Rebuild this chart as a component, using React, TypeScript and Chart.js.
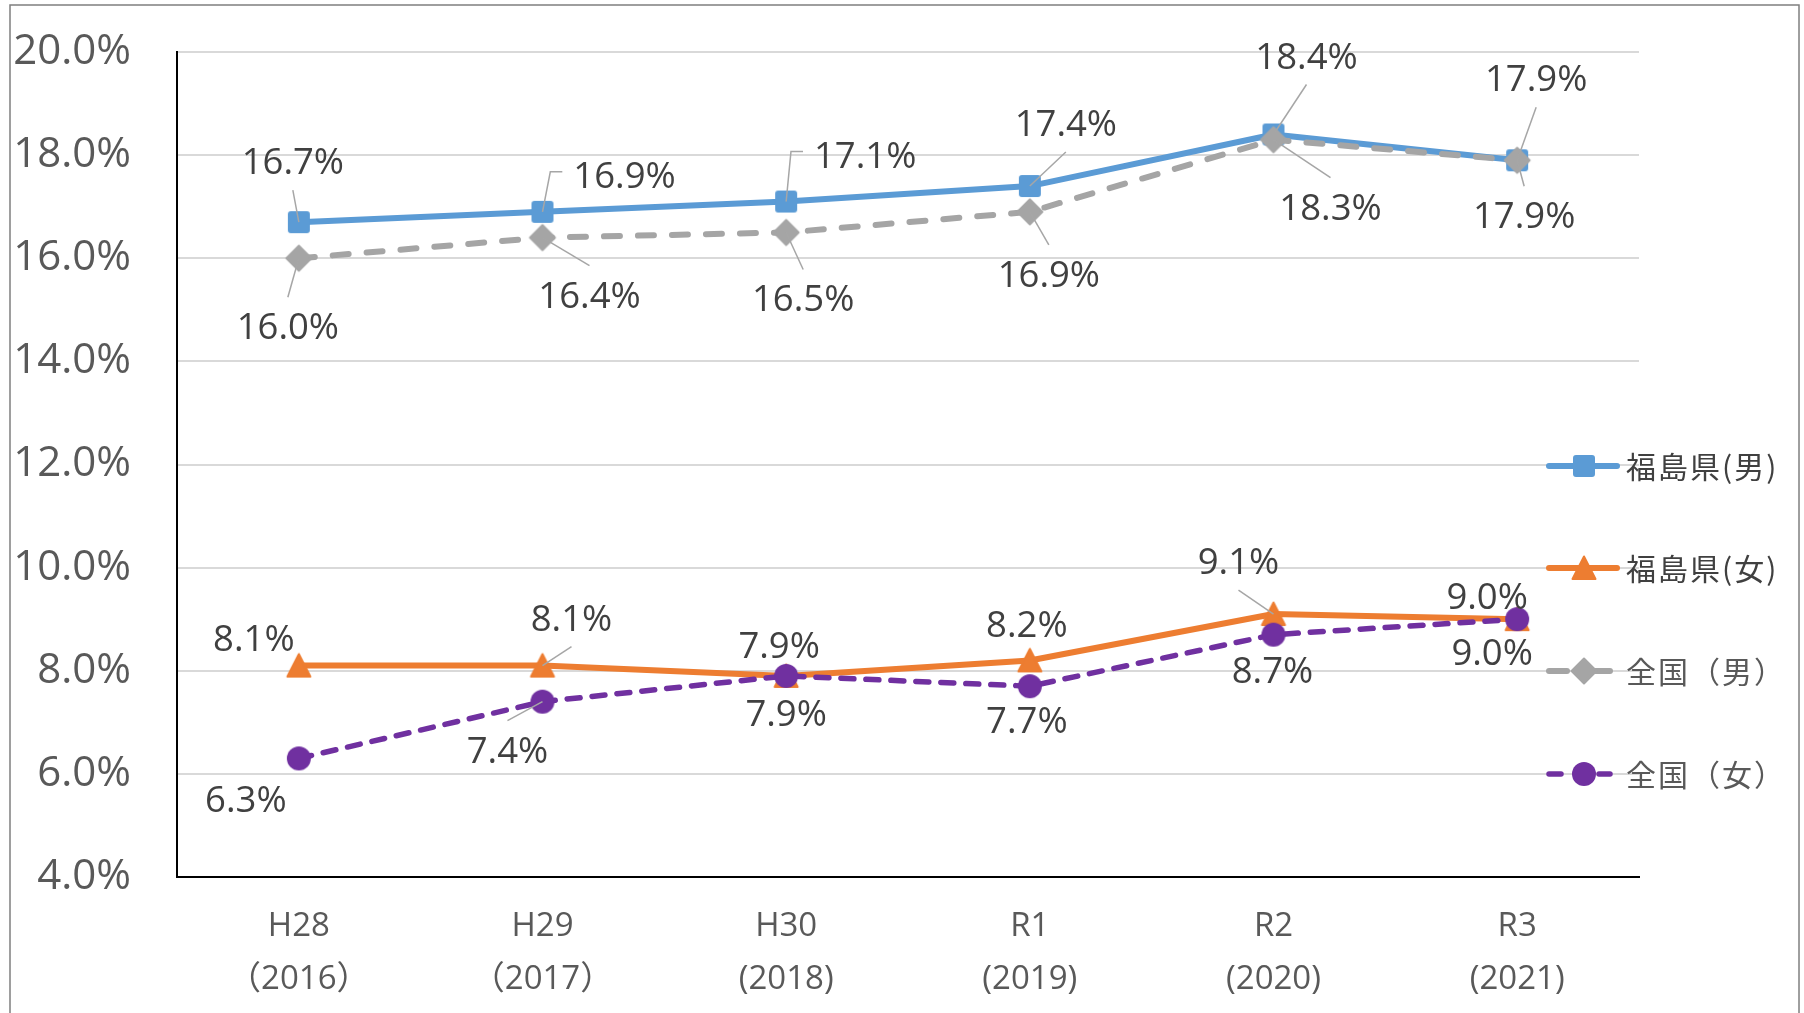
import { useEffect, useRef } from "react";
import { Chart, registerables } from "chart.js";

Chart.register(...registerables);

// ---------- data ----------
const categories: string[][] = [
  ["H28", "（2016）"],
  ["H29", "（2017）"],
  ["H30", "(2018)"],
  ["R1", "(2019)"],
  ["R2", "(2020)"],
  ["R3", "(2021)"],
];
const seriesNames = ["福島県(男)", "福島県(女)", "全国（男）", "全国（女）"];
const fukushimaMale = [16.7, 16.9, 17.1, 17.4, 18.4, 17.9];
const fukushimaFemale = [8.1, 8.1, 7.9, 8.2, 9.1, 9.0];
const nationalMale = [16.0, 16.4, 16.5, 16.9, 18.3, 17.9];
const nationalFemale = [6.3, 7.4, 7.9, 7.7, 8.7, 9.0];
const yMin = 4;
const yMax = 20;
const yStep = 2;

// ---------- styles / layout ----------
const BLUE = "#5B9BD5";
const ORANGE = "#ED7D31";
const GRAY = "#A5A5A5";
const PURPLE = "#7030A0";
const FONT = "'Open Sans', 'Noto Sans CJK JP', sans-serif";
const CJK = "'Noto Sans CJK JP', 'Noto Sans', sans-serif";

// label offsets from the point [dx, dy, leader: 0 none, 1 straight, 2 elbow]
const labelOffsets: number[][][] = [
  [[-6, -61, 1], [82, -37, 2], [79, -47, 2], [36, -63, 1], [33, -79, 1], [19, -82, 1]],
  [[-45, -28, 0], [29, -48, 1], [-7, -31, 0], [-3, -36, 0], [-35, -53, 1], [-30, -23, 0]],
  [[-11, 68, 1], [47, 57, 1], [17, 66, 1], [19, 62, 1], [57, 67, 1], [7, 55, 1]],
  [[-53, 41, 0], [-35, 48, 1], [0, 37, 0], [-3, 34, 0], [-1, 35, 0], [-25, 33, 0]],
];

function makeMarker(kind: string, color: string): HTMLCanvasElement {
  const S = 30;
  const c = document.createElement("canvas");
  c.width = S;
  c.height = S;
  const g = c.getContext("2d")!;
  g.fillStyle = color;
  g.strokeStyle = color;
  g.lineJoin = "round";
  g.lineWidth = 2;
  const m = S / 2;
  g.beginPath();
  if (kind === "square") {
    (g as any).roundRect(m - 11, m - 11, 22, 22, 3);
  } else if (kind === "diamond") {
    g.moveTo(m, m - 12.5);
    g.lineTo(m + 12.5, m);
    g.lineTo(m, m + 12.5);
    g.lineTo(m - 12.5, m);
  } else if (kind === "triangle") {
    g.moveTo(m, m - 11.5);
    g.lineTo(m + 11.5, m + 11);
    g.lineTo(m - 11.5, m + 11);
  } else {
    g.arc(m, m, 12, 0, Math.PI * 2);
  }
  g.closePath();
  g.fill();
  if (kind === "triangle" || kind === "diamond") g.stroke();
  return c;
}

export default function App() {
  const ref = useRef<HTMLCanvasElement>(null);

  useEffect(() => {
    const markers = [
      makeMarker("square", BLUE),
      makeMarker("triangle", ORANGE),
      makeMarker("diamond", GRAY),
      makeMarker("circle", PURPLE),
    ];
    const colors = [BLUE, ORANGE, GRAY, PURPLE];
    const seriesData = [fukushimaMale, fukushimaFemale, nationalMale, nationalFemale];

    const legendRows = [466, 568, 671, 774];
    const legendSegs: number[][][] = [
      [[1549, 1617]],
      [[1549, 1617]],
      [[1549, 1567], [1595, 1610]],
      [[1549, 1561], [1599, 1610]],
    ];
    const legendWidths = [6, 6, 6, 5.5];
    const legendTextColors = ["#404040", "#404040", "#595959", "#595959"];

    const overlay = {
      id: "overlay",
      afterDatasetsDraw(chart: any) {
        const ctx = chart.ctx as CanvasRenderingContext2D;
        ctx.save();
        // data labels + leader lines
        const fs = 36.5;
        ctx.font = `${fs}px ${FONT}`;
        ctx.textAlign = "center";
        ctx.textBaseline = "alphabetic";
        for (let s = 0; s < seriesData.length; s++) {
          const meta = chart.getDatasetMeta(s);
          seriesData[s].forEach((v, j) => {
            const pt = meta.data[j];
            const [dx, dy, leader] = labelOffsets[s][j];
            const lx = pt.x + dx;
            const ly = pt.y + dy;
            const text = v.toFixed(1) + "%";
            const w = ctx.measureText(text).width;
            if (leader) {
              ctx.beginPath();
              ctx.strokeStyle = "#A6A6A6";
              ctx.lineWidth = 1.5;
              ctx.setLineDash([]);
              if (leader === 2) {
                const sign = dx > 0 ? 1 : -1;
                const ex = lx - sign * (w / 2 + 11);
                ctx.moveTo(ex, ly - 3);
                ctx.lineTo(ex - sign * 12, ly - 3);
                ctx.lineTo(pt.x, pt.y);
              } else {
                const sy = dy < 0 ? ly + 29 : ly - 29;
                ctx.moveTo(lx, sy);
                ctx.lineTo(pt.x, pt.y);
              }
              ctx.stroke();
            }
            ctx.fillStyle = "#404040";
            ctx.fillText(text, lx, ly + fs * 0.357);
          });
        }
        // legend
        for (let s = 0; s < 4; s++) {
          const y = legendRows[s];
          ctx.strokeStyle = colors[s];
          ctx.lineWidth = legendWidths[s];
          ctx.lineCap = "round";
          ctx.setLineDash([]);
          legendSegs[s].forEach(([a, b]) => {
            ctx.beginPath();
            ctx.moveTo(a, y);
            ctx.lineTo(b, y);
            ctx.stroke();
          });
          const mk = markers[s];
          ctx.drawImage(mk, 1584 - mk.width / 2, y - mk.height / 2);
          ctx.font = `30px ${CJK}`;
          (ctx as any).letterSpacing = "2px";
          ctx.textAlign = "left";
          ctx.textBaseline = "middle";
          ctx.fillStyle = legendTextColors[s];
          ctx.fillText(seriesNames[s], 1626, y + 1);
          (ctx as any).letterSpacing = "0px";
        }
        ctx.restore();
      },
      afterDraw(chart: any) {
        const ctx = chart.ctx as CanvasRenderingContext2D;
        ctx.save();
        ctx.strokeStyle = "#7F7F7F";
        ctx.lineWidth = 1.5;
        ctx.strokeRect(10, 5, 1789, 1060);
        ctx.restore();
      },
    };

    const chart = new Chart(ref.current!, {
      type: "line",
      data: {
        labels: categories,
        datasets: seriesData.map((d, i) => ({
          label: seriesNames[i],
          data: d,
          borderColor: colors[i],
          backgroundColor: colors[i],
          borderWidth: i === 3 ? 5.5 : 6,
          borderDash: i === 2 ? [16, 18] : i === 3 ? [13, 12] : [],
          borderCapStyle: i >= 2 ? "round" : "butt",
          borderJoinStyle: "round",
          pointStyle: markers[i],
          pointRadius: 12,
          pointHoverRadius: 12,
          tension: 0,
          fill: false,
          order: 4 - i,
          clip: false,
        })) as any,
      },
      options: {
        responsive: false,
        animation: false,
        devicePixelRatio: 1,
        events: [],
        layout: { padding: { left: 0, top: 52, right: 165, bottom: 0 } },
        plugins: {
          legend: { display: false },
          title: { display: false },
          tooltip: { enabled: false },
        },
        scales: {
          x: {
            type: "category",
            offset: true,
            grid: { display: false, drawTicks: false },
            border: { display: true, color: "#000000", width: 2 },
            ticks: {
              color: "#595959",
              font: { family: FONT, size: 33, lineHeight: 1.6 },
              padding: 23,
              maxRotation: 0,
              autoSkip: false,
            },
            afterFit: (s: any) => {
              s.height = 136;
              s.paddingLeft = 0;
              s.paddingRight = 0;
            },
          },
          y: {
            min: yMin,
            max: yMax,
            grid: {
              drawTicks: false,
              color: (c: any) => (c.tick && c.tick.value === yMin ? "rgba(0,0,0,0)" : "#D9D9D9"),
              lineWidth: 2,
            },
            border: { display: true, color: "#000000", width: 2 },
            ticks: {
              stepSize: yStep,
              color: "#595959",
              font: { family: FONT, size: 42 },
              padding: 46,
              callback: (v: any) => Number(v).toFixed(1) + "%",
            },
            afterFit: (s: any) => {
              s.width = 177;
              s.paddingTop = 0;
              s.paddingBottom = 0;
            },
          },
        },
      },
      plugins: [overlay],
    });
    return () => chart.destroy();
  }, []);

  return (
    <div style={{ position: "absolute", left: 0, top: 0, width: 1804, height: 1013, background: "#ffffff" }}>
      <canvas ref={ref} width={1804} height={1013} style={{ display: "block", width: 1804, height: 1013 }} />
    </div>
  );
}
